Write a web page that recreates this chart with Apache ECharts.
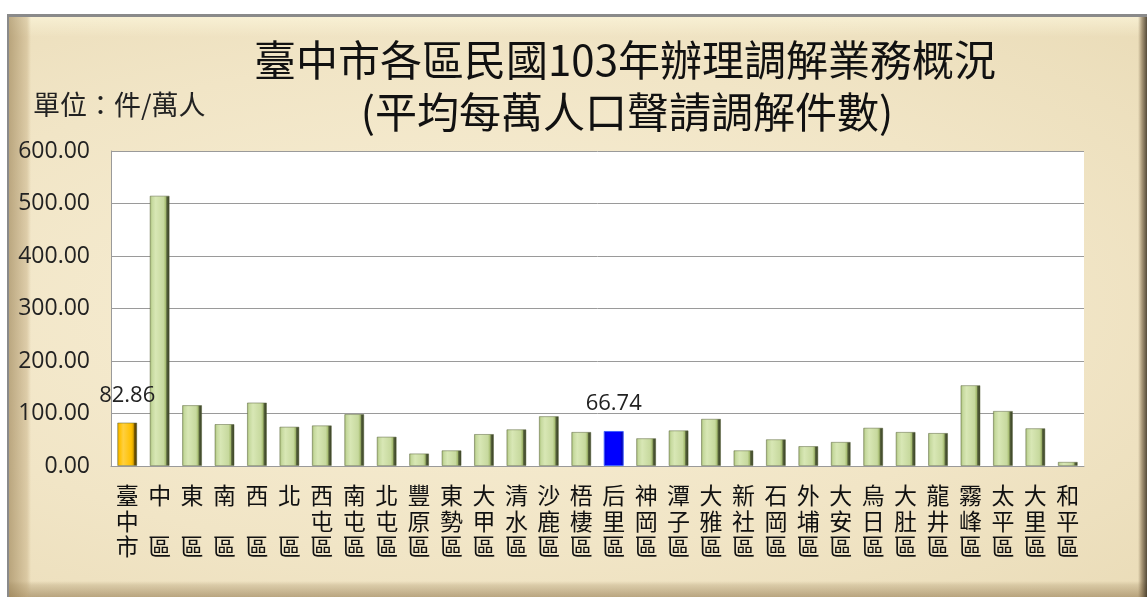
<!DOCTYPE html>
<html>
<head>
<meta charset="utf-8">
<script src="https://cdn.jsdelivr.net/npm/echarts@6/dist/echarts.min.js"></script>
<style>
html,body{margin:0;padding:0;background:#fff;width:1147px;height:597px;overflow:hidden;}
#frame{position:absolute;left:7px;top:14px;width:1140px;height:583px;box-sizing:border-box;
 border-top:3px solid #8a8a8a;border-left:2px solid #8a8a8a;
 background:
  linear-gradient(to right, rgba(150,125,80,0.6) 0px, rgba(190,165,120,0.4) 18px, rgba(0,0,0,0) 22px),
  linear-gradient(to left, rgba(60,50,35,0.85) 0px, rgba(120,100,70,0.6) 5px, rgba(0,0,0,0) 9px),
  linear-gradient(to top, rgba(150,125,85,0.6) 0px, rgba(180,160,120,0.35) 12px, rgba(0,0,0,0) 16px),
  linear-gradient(to bottom, rgba(255,250,225,0.6) 0px, rgba(0,0,0,0) 20px),
  radial-gradient(ellipse at 40% 50%, #f8efd6 0%, #f1e5c6 60%, #eadcb8 100%);}
#chart{position:absolute;left:0;top:0;width:1147px;height:597px;}
</style>
</head>
<body>
<div id="frame"></div>
<div id="chart"></div>
<script>
const categories = ['臺中市','中區','東區','南區','西區','北區','西屯區','南屯區','北屯區','豐原區','東勢區','大甲區','清水區','沙鹿區','梧棲區','后里區','神岡區','潭子區','大雅區','新社區','石岡區','外埔區','大安區','烏日區','大肚區','龍井區','霧峰區','太平區','大里區','和平區'];
const values = [82.86,515,116,80,121,75,77.5,99,56,24,30,61,70,95,65,66.74,53,68,90,30,51,38,46,73,65,63,154,105,72,8];
const yTicks = [0,100,200,300,400,500,600];
const labelled = ['臺中市','后里區'];
const titleLine1 = '臺中市各區民國103年辦理調解業務概況';
const titleLine2 = '(平均每萬人口聲請調解件數)';
const unitText = '單位：件/萬人';

function grad(stops){
  return new echarts.graphic.LinearGradient(0,0,1,0,stops.map(s=>({offset:s[0],color:s[1]})));
}
const greenFill = grad([[0,'#9fb66c'],[0.12,'#c6d99e'],[0.3,'#d8e7b5'],[0.7,'#c7d99e'],[0.8,'#a7bd72'],[0.86,'#56623a'],[1,'#2f3620']]);
const goldFill = grad([[0,'#d9a000'],[0.12,'#ffc000'],[0.3,'#ffd040'],[0.7,'#ffc000'],[0.8,'#e0a800'],[0.86,'#7a5a00'],[1,'#3e2e00']]);
const blueFill = grad([[0,'#0000d8'],[0.2,'#0000ff'],[0.8,'#0000ff'],[1,'#00008a']]);

function fillFor(name){
  if(name==='臺中市') return goldFill;
  if(name==='后里區') return blueFill;
  return greenFill;
}

function vertical(name){
  const chars = name.split('');
  if(chars.length===2) return chars[0]+'\n\n'+chars[1];
  return chars.join('\n');
}

const chart = echarts.init(document.getElementById('chart'), null, {renderer:'canvas'});
const option = {
  backgroundColor:'transparent',
  animation:false,
  title:[
    {text:titleLine1,left:620,top:34,textAlign:'center',textStyle:{fontFamily:'Noto Sans CJK TC',fontSize:42,fontWeight:'normal',color:'#111'}},
    {text:titleLine2,left:622,top:86,textAlign:'center',textStyle:{fontFamily:'Noto Sans CJK TC',fontSize:42,fontWeight:'normal',color:'#111'}},
    {text:unitText,left:28,top:86,textStyle:{fontFamily:'Noto Sans CJK TC',fontSize:27,fontWeight:'normal',color:'#222'}}
  ],
  grid:{left:111,top:151,right:63,bottom:131,show:true,backgroundColor:'#ffffff',borderWidth:0},
  xAxis:{
    type:'category',
    data:categories,
    axisTick:{show:false},
    axisLine:{show:true,lineStyle:{color:'#9a9a9a',width:1}},
    axisLabel:{
      interval:0,
      margin:17,
      fontFamily:'Noto Sans CJK TC',
      fontSize:23,
      lineHeight:25.5,
      color:'#111',
      verticalAlign:'top',
      formatter:function(v){return vertical(v);}
    }
  },
  yAxis:{
    type:'value',
    min:yTicks[0],
    max:yTicks[yTicks.length-1],
    interval:100,
    axisLine:{show:true,lineStyle:{color:'#9a9a9a',width:1}},
    axisTick:{show:false},
    splitLine:{show:true,lineStyle:{color:'#9a9a9a',width:1}},
    axisLabel:{
      margin:21,
      fontFamily:'Open Sans',
      fontSize:23,
      color:'#222',
      formatter:function(v){return v.toFixed(2);}
    }
  },
  series:[{
    type:'bar',
    barWidth:20,
    data:categories.map((c,i)=>({
      value:values[i],
      itemStyle:{color:fillFor(c),borderColor:c==='后里區'?'#4060ff':'rgba(90,100,60,0.5)',borderWidth:1},
      label:{show:labelled.indexOf(c)>=0}
    })),
    label:{
      position:'top',
      distance:16,
      fontFamily:'Open Sans',
      fontSize:22,
      color:'#222',
      formatter:function(p){return p.value.toFixed(2);}
    }
  }]
};
chart.setOption(option);
</script>
</body>
</html>
